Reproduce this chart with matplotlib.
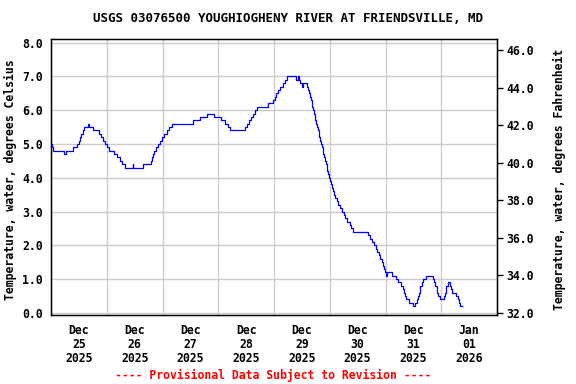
import matplotlib
matplotlib.use("Agg")
import matplotlib.pyplot as plt
import pandas as pd

# Change points of the 15-minute record (time, water temperature in deg C)
times = [
    "2025-12-25 00:00", "2025-12-25 00:30", "2025-12-25 00:45", "2025-12-25 05:30", "2025-12-25 06:30",
    "2025-12-25 09:30", "2025-12-25 11:15", "2025-12-25 12:00", "2025-12-25 12:30", "2025-12-25 13:00",
    "2025-12-25 13:45", "2025-12-25 14:15", "2025-12-25 16:00", "2025-12-25 16:30", "2025-12-25 18:00",
    "2025-12-25 20:45", "2025-12-25 21:30", "2025-12-25 22:30", "2025-12-25 23:15", "2025-12-26 00:00",
    "2025-12-26 01:00", "2025-12-26 03:00", "2025-12-26 04:30", "2025-12-26 05:45", "2025-12-26 06:30",
    "2025-12-26 07:45", "2025-12-26 11:15", "2025-12-26 11:30", "2025-12-26 15:30", "2025-12-26 19:00",
    "2025-12-26 19:30", "2025-12-26 20:00", "2025-12-26 20:15", "2025-12-26 21:15", "2025-12-26 22:00",
    "2025-12-26 23:00", "2025-12-26 23:45", "2025-12-27 00:30", "2025-12-27 02:00", "2025-12-27 02:45",
    "2025-12-27 04:00", "2025-12-27 13:00", "2025-12-27 16:00", "2025-12-27 19:15", "2025-12-27 22:15",
    "2025-12-28 01:15", "2025-12-28 03:00", "2025-12-28 04:15", "2025-12-28 05:00", "2025-12-28 11:30",
    "2025-12-28 12:30", "2025-12-28 13:15", "2025-12-28 14:00", "2025-12-28 15:00", "2025-12-28 15:45",
    "2025-12-28 16:45", "2025-12-28 21:30", "2025-12-28 23:30", "2025-12-29 00:30", "2025-12-29 01:00",
    "2025-12-29 01:45", "2025-12-29 02:30", "2025-12-29 04:00", "2025-12-29 04:45", "2025-12-29 05:30",
    "2025-12-29 09:30", "2025-12-29 10:15", "2025-12-29 10:45", "2025-12-29 11:15", "2025-12-29 12:00",
    "2025-12-29 12:30", "2025-12-29 14:15", "2025-12-29 14:30", "2025-12-29 15:00", "2025-12-29 15:30",
    "2025-12-29 16:00", "2025-12-29 16:15", "2025-12-29 16:30", "2025-12-29 16:45", "2025-12-29 17:15",
    "2025-12-29 17:30", "2025-12-29 17:45", "2025-12-29 18:00", "2025-12-29 18:30", "2025-12-29 19:00",
    "2025-12-29 19:15", "2025-12-29 19:30", "2025-12-29 19:45", "2025-12-29 20:15", "2025-12-29 20:45",
    "2025-12-29 21:00", "2025-12-29 21:15", "2025-12-29 21:30", "2025-12-29 22:00", "2025-12-29 22:30",
    "2025-12-29 22:45", "2025-12-29 23:00", "2025-12-29 23:15", "2025-12-29 23:45",
    "2025-12-30 00:15", "2025-12-30 00:30", "2025-12-30 01:00", "2025-12-30 01:30", "2025-12-30 01:45",
    "2025-12-30 02:15", "2025-12-30 03:15", "2025-12-30 03:45", "2025-12-30 04:30", "2025-12-30 05:15",
    "2025-12-30 06:00", "2025-12-30 06:30", "2025-12-30 07:30", "2025-12-30 08:45", "2025-12-30 09:15",
    "2025-12-30 10:00", "2025-12-30 16:30", "2025-12-30 17:15", "2025-12-30 18:15", "2025-12-30 19:00",
    "2025-12-30 19:45", "2025-12-30 20:15", "2025-12-30 21:00", "2025-12-30 21:30", "2025-12-30 22:30",
    "2025-12-30 23:00", "2025-12-30 23:15", "2025-12-30 23:45", "2025-12-31 00:15", "2025-12-31 00:30",
    "2025-12-31 03:00", "2025-12-31 04:30", "2025-12-31 05:30", "2025-12-31 06:30", "2025-12-31 07:30",
    "2025-12-31 08:00", "2025-12-31 08:30", "2025-12-31 08:45", "2025-12-31 10:00", "2025-12-31 12:00",
    "2025-12-31 12:45", "2025-12-31 13:30", "2025-12-31 14:00", "2025-12-31 14:30", "2025-12-31 14:45",
    "2025-12-31 15:00", "2025-12-31 15:30", "2025-12-31 16:00", "2025-12-31 17:15", "2025-12-31 20:30",
    "2025-12-31 21:00", "2025-12-31 21:30", "2025-12-31 22:00", "2025-12-31 22:15", "2025-12-31 22:45",
    "2025-12-31 23:30", "2026-01-01 01:00", "2026-01-01 01:30", "2026-01-01 02:00", "2026-01-01 02:15",
    "2026-01-01 03:00", "2026-01-01 03:45", "2026-01-01 04:15", "2026-01-01 04:45", "2026-01-01 06:15",
    "2026-01-01 07:00", "2026-01-01 07:30", "2026-01-01 08:00", "2026-01-01 08:45",
]
temp_c = [
    5.0, 4.9, 4.8, 4.7, 4.8,
    4.9, 5.0, 5.1, 5.2, 5.3,
    5.4, 5.5, 5.6, 5.5, 5.4,
    5.3, 5.2, 5.1, 5.0, 4.9,
    4.8, 4.7, 4.6, 4.5, 4.4,
    4.3, 4.4, 4.3, 4.4, 4.5,
    4.6, 4.7, 4.8, 4.9, 5.0,
    5.1, 5.2, 5.3, 5.4, 5.5,
    5.6, 5.7, 5.8, 5.9, 5.8,
    5.7, 5.6, 5.5, 5.4, 5.5,
    5.6, 5.7, 5.8, 5.9, 6.0,
    6.1, 6.2, 6.3, 6.4, 6.5,
    6.6, 6.7, 6.8, 6.9, 7.0,
    6.9, 7.0, 6.9, 6.8, 6.7,
    6.8, 6.7, 6.6, 6.5, 6.4,
    6.3, 6.2, 6.1, 6.0, 5.9,
    5.8, 5.7, 5.6, 5.5, 5.4,
    5.3, 5.2, 5.1, 5.0, 4.9,
    4.8, 4.7, 4.6, 4.5, 4.4,
    4.3, 4.2, 4.1, 4.0,
    3.9, 3.8, 3.7, 3.6, 3.5,
    3.4, 3.3, 3.2, 3.1, 3.0,
    2.9, 2.8, 2.7, 2.6, 2.5,
    2.4, 2.3, 2.2, 2.1, 2.0,
    1.9, 1.8, 1.7, 1.6, 1.5,
    1.4, 1.3, 1.2, 1.1, 1.2,
    1.1, 1.0, 0.9, 0.8, 0.7,
    0.6, 0.5, 0.4, 0.3, 0.2,
    0.3, 0.4, 0.5, 0.6, 0.7,
    0.8, 0.9, 1.0, 1.1, 1.0,
    0.9, 0.8, 0.7, 0.6, 0.5,
    0.4, 0.5, 0.6, 0.7, 0.8,
    0.9, 0.8, 0.7, 0.6, 0.5,
    0.4, 0.3, 0.2, 0.2,
]
assert len(times) == len(temp_c), (len(times), len(temp_c))

day_labels = ["Dec\n25\n2025", "Dec\n26\n2025", "Dec\n27\n2025", "Dec\n28\n2025",
              "Dec\n29\n2025", "Dec\n30\n2025", "Dec\n31\n2025", "Jan\n01\n2026"]
c_ticks = [0.0, 1.0, 2.0, 3.0, 4.0, 5.0, 6.0, 7.0, 8.0]
f_ticks = [32.0, 34.0, 36.0, 38.0, 40.0, 42.0, 44.0, 46.0]

title = "USGS 03076500 YOUGHIOGHENY RIVER AT FRIENDSVILLE, MD"
ylabel_l = "Temperature, water, degrees Celsius"
ylabel_r = "Temperature, water, degrees Fahrenheit"
footer = "---- Provisional Data Subject to Revision ----"

FONT = "DejaVu Sans Mono"
plt.rcParams["font.family"] = FONT
plt.rcParams["font.weight"] = "bold"
FS = 8.3

fig = plt.figure(figsize=(5.76, 3.84), dpi=100)
ax = fig.add_axes([51 / 576, 1 - 314.5 / 384, (497 - 51) / 576, (314.5 - 39.3) / 384])

t = pd.to_datetime(times)
ax.plot(t, temp_c, color="#0000ff", lw=0.9, drawstyle="steps-post", zorder=3)

start = pd.Timestamp("2025-12-25 00:00")
end = pd.Timestamp("2026-01-02 00:00")
ax.set_xlim(start, end)
ax.set_ylim(-0.05, 8.1)

midnights = pd.date_range(start, end, freq="D")
noons = pd.date_range(start + pd.Timedelta(hours=12), periods=len(day_labels), freq="D")
ax.set_xticks(noons)
ax.set_xticklabels(day_labels, fontsize=FS, fontweight="bold", linespacing=1.1)
ax.set_xticks(midnights, minor=True)
ax.tick_params(axis="x", which="both", length=0, pad=7)
ax.grid(True, axis="x", which="minor", color="#cccccc", lw=1.0)
ax.set_yticks(c_ticks)
ax.set_yticklabels([f"{v:.1f}" for v in c_ticks], fontsize=FS, fontweight="bold")
ax.tick_params(axis="y", length=0, pad=6)
ax.grid(True, axis="y", which="major", color="#cccccc", lw=1.0)
ax.set_axisbelow(True)
for s in ax.spines.values():
    s.set_linewidth(1.0)
    s.set_color("black")
ax.set_ylabel(ylabel_l, fontsize=FS, fontweight="bold")
ax.yaxis.set_label_coords(-34 / 446, 0.49)

ax2 = ax.twinx()
lo, hi = ax.get_ylim()
ax2.set_ylim(lo * 9 / 5 + 32, hi * 9 / 5 + 32)
ax2.set_yticks(f_ticks)
ax2.set_yticklabels([f"{v:.1f}" for v in f_ticks], fontsize=FS, fontweight="bold")
ax2.tick_params(axis="y", direction="out", length=4, width=1, pad=3)
ax2.set_ylabel(ylabel_r, fontsize=FS, fontweight="bold")
ax2.yaxis.set_label_coords(1 + 56 / 446, 0.49)

fig.text(0.5, 1 - 19 / 384, title, ha="center", va="center",
         fontsize=9.0, fontweight="bold")
fig.text(273 / 576, 1 - 375 / 384, footer, ha="center", va="center", fontsize=FS,
         fontweight="bold", color="#ff0000")

fig.savefig("out.png", dpi=100)
